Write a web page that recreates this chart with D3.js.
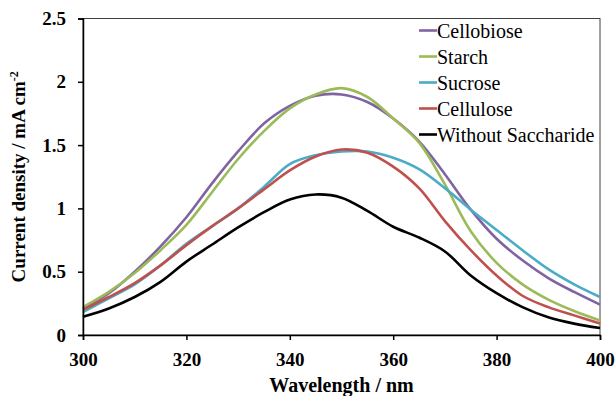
<!DOCTYPE html>
<html>
<head>
<meta charset="utf-8">
<script src="https://cdn.jsdelivr.net/npm/d3@7/dist/d3.min.js"></script>
<style>
  body { margin: 0; background: #fff; }
  svg text { font-family: "Liberation Serif", "Times New Roman", serif; }
</style>
</head>
<body>
<svg id="chart" width="616" height="396"></svg>
<script>
// wavelength grid (nm)
const wavelength = [300, 305, 310, 315, 320, 325, 330, 335, 340, 345, 350,
  355, 360, 365, 370, 375, 380, 385, 390, 395, 400];

// current density (mA cm-2)
const cellobiose = [0.21, 0.33, 0.50, 0.70, 0.93, 1.20, 1.45, 1.67, 1.81, 1.89, 1.90,
  1.84, 1.71, 1.53, 1.27, 0.99, 0.76, 0.59, 0.45, 0.34, 0.24];
const starch = [0.22, 0.34, 0.49, 0.67, 0.87, 1.13, 1.39, 1.61, 1.79, 1.90, 1.95,
  1.88, 1.71, 1.52, 1.19, 0.82, 0.57, 0.40, 0.28, 0.19, 0.115];
const sucrose = [0.18, 0.29, 0.40, 0.55, 0.72, 0.86, 1.00, 1.17, 1.35, 1.42, 1.45,
  1.45, 1.40, 1.31, 1.16, 0.99, 0.83, 0.67, 0.52, 0.40, 0.30];
const cellulose = [0.20, 0.30, 0.41, 0.55, 0.71, 0.86, 1.00, 1.15, 1.30, 1.41, 1.465,
  1.44, 1.33, 1.16, 0.90, 0.67, 0.47, 0.31, 0.22, 0.155, 0.09];
const noSaccharide = [0.145, 0.21, 0.30, 0.42, 0.58, 0.715, 0.85, 0.97, 1.07, 1.11, 1.085,
  0.98, 0.855, 0.77, 0.66, 0.47, 0.33, 0.22, 0.14, 0.09, 0.055];

const seriesNames = ['Cellobiose', 'Starch', 'Sucrose', 'Cellulose', 'Without Saccharide'];
const seriesValues = [cellobiose, starch, sucrose, cellulose, noSaccharide];
const seriesColors = ['#8064A2', '#9BBB59', '#4BACC6', '#C0504D', '#000000'];

const xTicks = [300, 320, 340, 360, 380, 400];
const yTicks = [0, 0.5, 1, 1.5, 2, 2.5];

const svg = d3.select('#chart');
const margin = { top: 18.5, right: 16, bottom: 61, left: 83 };
const width = +svg.attr('width') - margin.left - margin.right;
const height = +svg.attr('height') - margin.top - margin.bottom;

const x = d3.scaleLinear().domain([300, 400]).range([0, width]);
const y = d3.scaleLinear().domain([0, 2.5]).range([height, 0]);

const g = svg.append('g')
  .attr('transform', `translate(${margin.left},${margin.top})`);

// plot area frame
g.append('rect')
  .attr('width', width)
  .attr('height', height)
  .attr('fill', 'none')
  .attr('stroke', '#404040')
  .attr('stroke-width', 1);

// the curves
const line = d3.line()
  .x((d, i) => x(wavelength[i]))
  .y(d => y(d))
  .curve(d3.curveCatmullRom.alpha(0.5));

seriesValues.forEach((vals, k) => {
  g.append('path')
    .datum(vals)
    .attr('fill', 'none')
    .attr('stroke', seriesColors[k])
    .attr('stroke-width', 2.6)
    .attr('d', line);
});

// axes
const xAxis = g.append('g')
  .attr('transform', `translate(0,${height})`)
  .call(d3.axisBottom(x).tickValues(xTicks).tickSize(5).tickPadding(13).tickFormat(d3.format('d')));
const yAxis = g.append('g')
  .call(d3.axisLeft(y).tickValues(yTicks).tickSize(5).tickPadding(12).tickFormat(d => String(d)));

[xAxis, yAxis].forEach(ax => {
  ax.attr('font-family', null).attr('font-size', null);
  ax.select('.domain').attr('stroke', '#000').attr('stroke-width', 1.5);
  ax.selectAll('.tick line').attr('stroke', '#000').attr('stroke-width', 1.5);
  ax.selectAll('.tick text')
    .attr('fill', '#000')
    .attr('font-size', 19)
    .attr('font-weight', 'bold');
});

// axis titles
svg.append('text')
  .attr('x', margin.left + width / 2)
  .attr('y', 392)
  .attr('text-anchor', 'middle')
  .attr('font-size', 20)
  .attr('font-weight', 'bold')
  .text('Wavelength / nm');

const yTitle = svg.append('text')
  .attr('text-anchor', 'middle')
  .attr('transform', `translate(25,${margin.top + height / 2}) rotate(-90)`)
  .attr('font-size', 19)
  .attr('font-weight', 'bold');
yTitle.append('tspan').text('Current density / mA cm');
yTitle.append('tspan').attr('dy', -7).attr('font-size', 12).text('-2');

// legend
const legend = g.append('g')
  .attr('transform', `translate(${x(300) + 336},12)`);

seriesNames.forEach((name, k) => {
  const row = legend.append('g').attr('transform', `translate(0,${k * 26})`);
  row.append('line')
    .attr('x1', 0).attr('x2', 18)
    .attr('stroke', seriesColors[k])
    .attr('stroke-width', 2.6);
  row.append('text')
    .attr('x', 18)
    .attr('dy', '0.35em')
    .attr('font-size', 20)
    .text(name);
});
</script>
</body>
</html>
